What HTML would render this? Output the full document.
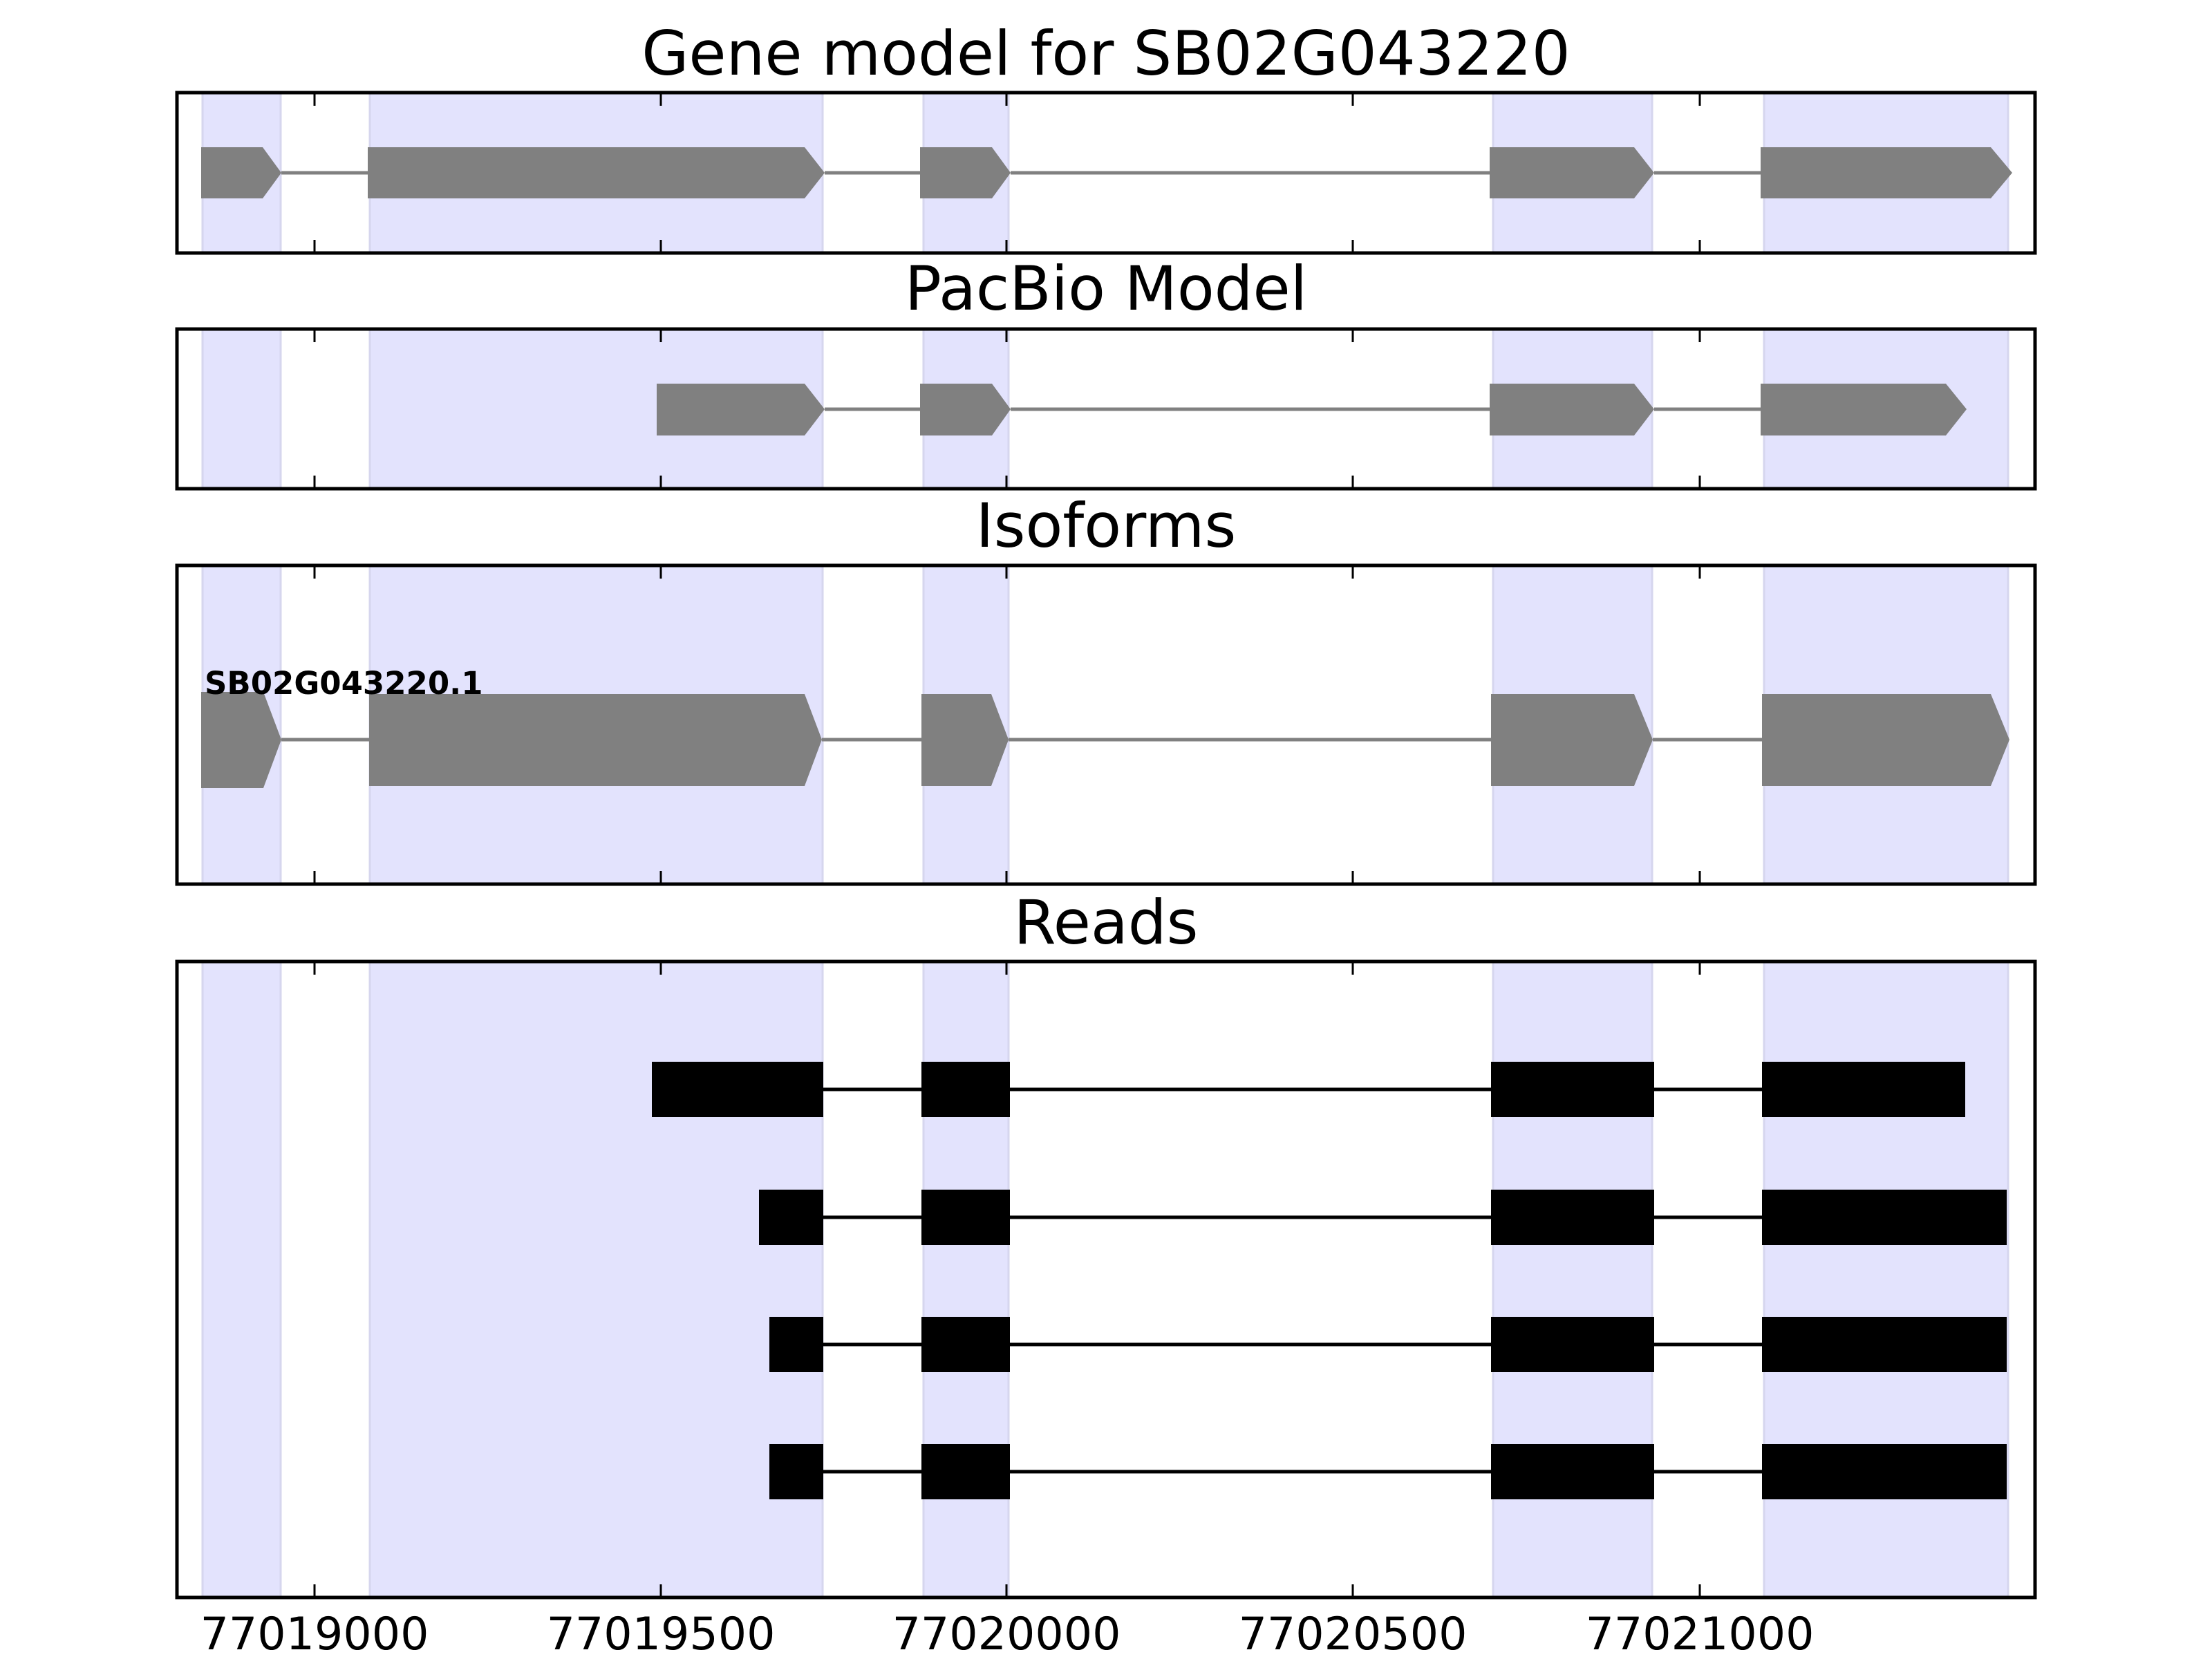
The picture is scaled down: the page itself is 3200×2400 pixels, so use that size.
<!DOCTYPE html>
<html><head><meta charset="utf-8"><style>html,body{margin:0;padding:0;background:#fff}svg{display:block}</style></head>
<body>
<svg width="3200" height="2400" viewBox="0 0 3200 2400" xmlns="http://www.w3.org/2000/svg" font-family="'DejaVu Sans','Liberation Sans',sans-serif">
<defs>
<g id="bands">
<rect x="293" y="0" width="113" height="1" />
</g>
</defs>
<g fill="#000" font-size="88" text-anchor="middle">
<text x="1600" y="108">Gene model for SB02G043220</text>
<text x="1600" y="448">PacBio Model</text>
<text x="1600" y="791">Isoforms</text>
<text x="1600" y="1365">Reads</text>
</g>
<!-- bands for each panel -->
<g fill="#e3e3fd" stroke="#d6d6ee" stroke-width="3">
<rect x="293" y="134" width="113" height="232"/><rect x="535" y="134" width="655" height="232"/><rect x="1336" y="134" width="123" height="232"/><rect x="2160" y="134" width="230" height="232"/><rect x="2552" y="134" width="353" height="232"/>
<rect x="293" y="476" width="113" height="231"/><rect x="535" y="476" width="655" height="231"/><rect x="1336" y="476" width="123" height="231"/><rect x="2160" y="476" width="230" height="231"/><rect x="2552" y="476" width="353" height="231"/>
<rect x="293" y="818" width="113" height="461"/><rect x="535" y="818" width="655" height="461"/><rect x="1336" y="818" width="123" height="461"/><rect x="2160" y="818" width="230" height="461"/><rect x="2552" y="818" width="353" height="461"/>
<rect x="293" y="1391" width="113" height="920"/><rect x="535" y="1391" width="655" height="920"/><rect x="1336" y="1391" width="123" height="920"/><rect x="2160" y="1391" width="230" height="920"/><rect x="2552" y="1391" width="353" height="920"/>
</g>
<!-- gene model -->
<g stroke="#808080" stroke-width="5"><line x1="407" y1="250" x2="532" y2="250"/><line x1="1193" y1="250" x2="1331" y2="250"/><line x1="1462" y1="250" x2="2155" y2="250"/><line x1="2393" y1="250" x2="2547" y2="250"/></g>
<g fill="#808080">
<polygon points="291,213 380,213 407,250 380,287 291,287"/>
<polygon points="532,213 1164,213 1193,250 1164,287 532,287"/>
<polygon points="1331,213 1435,213 1462,250 1435,287 1331,287"/>
<polygon points="2155,213 2364,213 2393,250 2364,287 2155,287"/>
<polygon points="2547,213 2880,213 2911,250 2880,287 2547,287"/>
</g>
<!-- pacbio -->
<g stroke="#808080" stroke-width="5"><line x1="1193" y1="592" x2="1331" y2="592"/><line x1="1462" y1="592" x2="2155" y2="592"/><line x1="2393" y1="592" x2="2547" y2="592"/></g>
<g fill="#808080">
<polygon points="950,555 1164,555 1193,592 1164,630 950,630"/>
<polygon points="1331,555 1435,555 1462,592 1435,630 1331,630"/>
<polygon points="2155,555 2364,555 2393,592 2364,630 2155,630"/>
<polygon points="2547,555 2815,555 2845,592 2815,630 2547,630"/>
</g>
<!-- isoforms -->
<g stroke="#808080" stroke-width="5"><line x1="407" y1="1070" x2="534" y2="1070"/><line x1="1189" y1="1070" x2="1333" y2="1070"/><line x1="1459" y1="1070" x2="2157" y2="1070"/><line x1="2391" y1="1070" x2="2549" y2="1070"/></g>
<g fill="#808080">
<polygon points="291,1001 381,1001 407,1070 381,1140 291,1140"/>
<polygon points="534,1004 1164,1004 1189,1070 1164,1137 534,1137"/>
<polygon points="1333,1004 1434,1004 1459,1070 1434,1137 1333,1137"/>
<polygon points="2157,1004 2364,1004 2391,1070 2364,1137 2157,1137"/>
<polygon points="2549,1004 2880,1004 2907,1070 2880,1137 2549,1137"/>
</g>
<text x="296" y="1004" font-size="45" font-weight="bold" fill="#000">SB02G043220.1</text>
<!-- reads -->
<g stroke="#000" stroke-width="5">
<line x1="1191" y1="1576" x2="2549" y2="1576"/>
<line x1="1098" y1="1761" x2="2549" y2="1761"/>
<line x1="1113" y1="1945" x2="2549" y2="1945"/>
<line x1="1113" y1="2129" x2="2549" y2="2129"/>
</g>
<g fill="#000">
<rect x="943" y="1536" width="248" height="80"/><rect x="1333" y="1536" width="128" height="80"/><rect x="2157" y="1536" width="236" height="80"/><rect x="2549" y="1536" width="294" height="80"/>
<rect x="1098" y="1721" width="93" height="80"/><rect x="1333" y="1721" width="128" height="80"/><rect x="2157" y="1721" width="236" height="80"/><rect x="2549" y="1721" width="354" height="80"/>
<rect x="1113" y="1905" width="78" height="80"/><rect x="1333" y="1905" width="128" height="80"/><rect x="2157" y="1905" width="236" height="80"/><rect x="2549" y="1905" width="354" height="80"/>
<rect x="1113" y="2089" width="78" height="80"/><rect x="1333" y="2089" width="128" height="80"/><rect x="2157" y="2089" width="236" height="80"/><rect x="2549" y="2089" width="354" height="80"/>
</g>
<!-- panel frames -->
<g fill="none" stroke="#000" stroke-width="5">
<rect x="256" y="134" width="2688" height="232"/>
<rect x="256" y="476" width="2688" height="231"/>
<rect x="256" y="818" width="2688" height="461"/>
<rect x="256" y="1391" width="2688" height="920"/>
</g>
<!-- ticks -->
<g stroke="#000" stroke-width="3">
<path d="M455 134v19M956 134v19M1456 134v19M1957 134v19M2459 134v19M455 366v-19M956 366v-19M1456 366v-19M1957 366v-19M2459 366v-19"/>
<path d="M455 476v19M956 476v19M1456 476v19M1957 476v19M2459 476v19M455 707v-19M956 707v-19M1456 707v-19M1957 707v-19M2459 707v-19"/>
<path d="M455 818v19M956 818v19M1456 818v19M1957 818v19M2459 818v19M455 1279v-19M956 1279v-19M1456 1279v-19M1957 1279v-19M2459 1279v-19"/>
<path d="M455 1391v19M956 1391v19M1456 1391v19M1957 1391v19M2459 1391v19M455 2311v-19M956 2311v-19M1456 2311v-19M1957 2311v-19M2459 2311v-19"/>
</g>
<g font-size="65" text-anchor="middle" fill="#000">
<text x="455" y="2386">77019000</text>
<text x="956" y="2386">77019500</text>
<text x="1456" y="2386">77020000</text>
<text x="1957" y="2386">77020500</text>
<text x="2459" y="2386">77021000</text>
</g>
</svg>
</body></html>
